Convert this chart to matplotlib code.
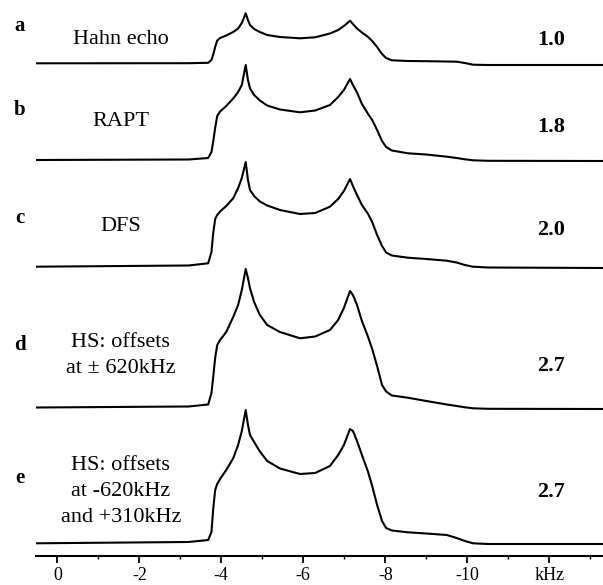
import matplotlib
matplotlib.use("Agg")
import matplotlib.pyplot as plt
from matplotlib.ticker import FixedLocator

plt.rcParams['font.family'] = ['Liberation Serif', 'DejaVu Serif']

# common frequency grid (kHz)
freq = [0.52, -3.2, -3.68, -3.76, -3.80, -3.85, -3.90, -3.97, -4.12, -4.29, -4.41, -4.50,
        -4.595, -4.65, -4.70, -4.80, -4.94, -5.12, -5.43, -5.92, -6.29, -6.65, -6.85, -6.99,
        -7.14, -7.21, -7.31, -7.43, -7.58, -7.68, -7.80, -7.92, -8.02, -8.16, -8.55, -9.0,
        -9.5, -9.74, -9.94, -10.14, -10.5, -13.31]

# intensities (arb. units) of the five spectra
int_a = [1.7, 1.8, 2.2, 5, 10, 18, 24.5, 27, 29.5, 33, 36.5, 42, 51.7, 45, 40, 36, 33, 30, 28,
         26.7, 27.7, 31.5, 35, 39, 44.3, 41, 36.5, 32.5, 28, 24, 18, 11, 7, 4.7, 4, 3.8, 3.5,
         3.3, 2, 0.3, 0, 0]
int_b = [1, 1.5, 3, 9, 19, 33, 45, 49.5, 55, 62.5, 69, 76, 96, 81, 72.7, 66, 60.5, 55.5, 51.5,
         48.7, 50.5, 56, 64, 71, 82, 76, 68.5, 57, 47, 41, 31, 20, 14, 10.5, 7.7, 6.5, 4.3, 3,
         1.7, 0.7, 0.2, 0]
int_c = [1.3, 2.5, 4.7, 16, 34, 49, 53, 56.5, 62, 69.7, 80, 90, 106, 88, 78, 72, 66.5, 62.5,
         58, 54, 55, 61.3, 69, 77, 89, 82, 73, 63, 54, 46, 33, 22, 15.5, 12.5, 10.3, 9, 7.3,
         5.5, 3, 1.3, 0.5, 0]
int_d = [1.5, 2.5, 4.5, 16, 31, 51, 64, 69, 77, 92, 104, 119, 140, 131, 120.7, 107, 94, 84, 77,
         70.7, 72.5, 79, 89, 101, 118, 114, 104, 88, 72, 60, 43, 24, 17.5, 13.5, 11.3, 8, 4.5,
         3, 1.7, 0.7, 0.2, 0]
int_e = [0.7, 2, 4, 12, 34, 54, 60, 65, 74, 85.7, 99, 113, 134, 119, 109, 102, 92.5, 83, 75.5,
         70, 71, 78, 89, 99, 115, 113, 103, 89, 72, 58, 39, 23, 16, 13.5, 11.7, 10.5, 9, 6, 3,
         0.7, 0, 0]

letters = ['a', 'b', 'c', 'd', 'e']
methods = [['Hahn echo'], ['RAPT'], ['DFS'], ['HS: offsets', 'at ± 620kHz'],
           ['HS: offsets', 'at -620kHz', 'and +310kHz']]
gains = ['1.0', '1.8', '2.0', '2.7', '2.7']

tick_vals = [0, -2, -4, -6, -8, -10, -12]
tick_labels = ['0', '-2', '-4', '-6', '-8', '-10', 'kHz']

spectra = [int_a, int_b, int_c, int_d, int_e]
baselines = [65, 161, 268, 409, 544]
letter_y = [26, 110, 218, 345, 478]
method_y = [39, 121, 226, 342, 465]
gain_y = [40, 127, 230, 366, 492]

fig = plt.figure(figsize=(6.03, 5.85), dpi=100)
ax = fig.add_axes([36 / 603, (585 - 555.6) / 585, 1 - 36 / 603, 555.6 / 585])

for inten, base in zip(spectra, baselines):
    ax.plot(freq, [base - v for v in inten], color='black', lw=1.5)

ax.set_xlim(0.52, -13.31)
ax.set_ylim(555.6, 0)
for s in ['top', 'left', 'right']:
    ax.spines[s].set_visible(False)
ax.spines['bottom'].set_linewidth(1.5)
ax.set_yticks([])
ax.xaxis.set_major_locator(FixedLocator(tick_vals))
ax.set_xticklabels(tick_labels)
ax.xaxis.set_minor_locator(FixedLocator([-1, -3, -5, -7, -9, -11, -13]))
ax.tick_params(axis='x', which='major', length=5, width=1.3, labelsize=13, pad=3.5)
ax.tick_params(axis='x', which='minor', length=2.5, width=1.0)

for i in range(5):
    fig.text(20 / 603, 1 - letter_y[i] / 585, letters[i], fontsize=15, fontweight='bold',
             ha='center', va='center')
    for j, line in enumerate(methods[i]):
        ax.text(-1.55, method_y[i] + 26.5 * j, line, fontsize=16, ha='center', va='center')
    ax.text(-12.05, gain_y[i], gains[i], fontsize=16, fontweight='bold', ha='center', va='center')

fig.savefig('out.png', dpi=100)
